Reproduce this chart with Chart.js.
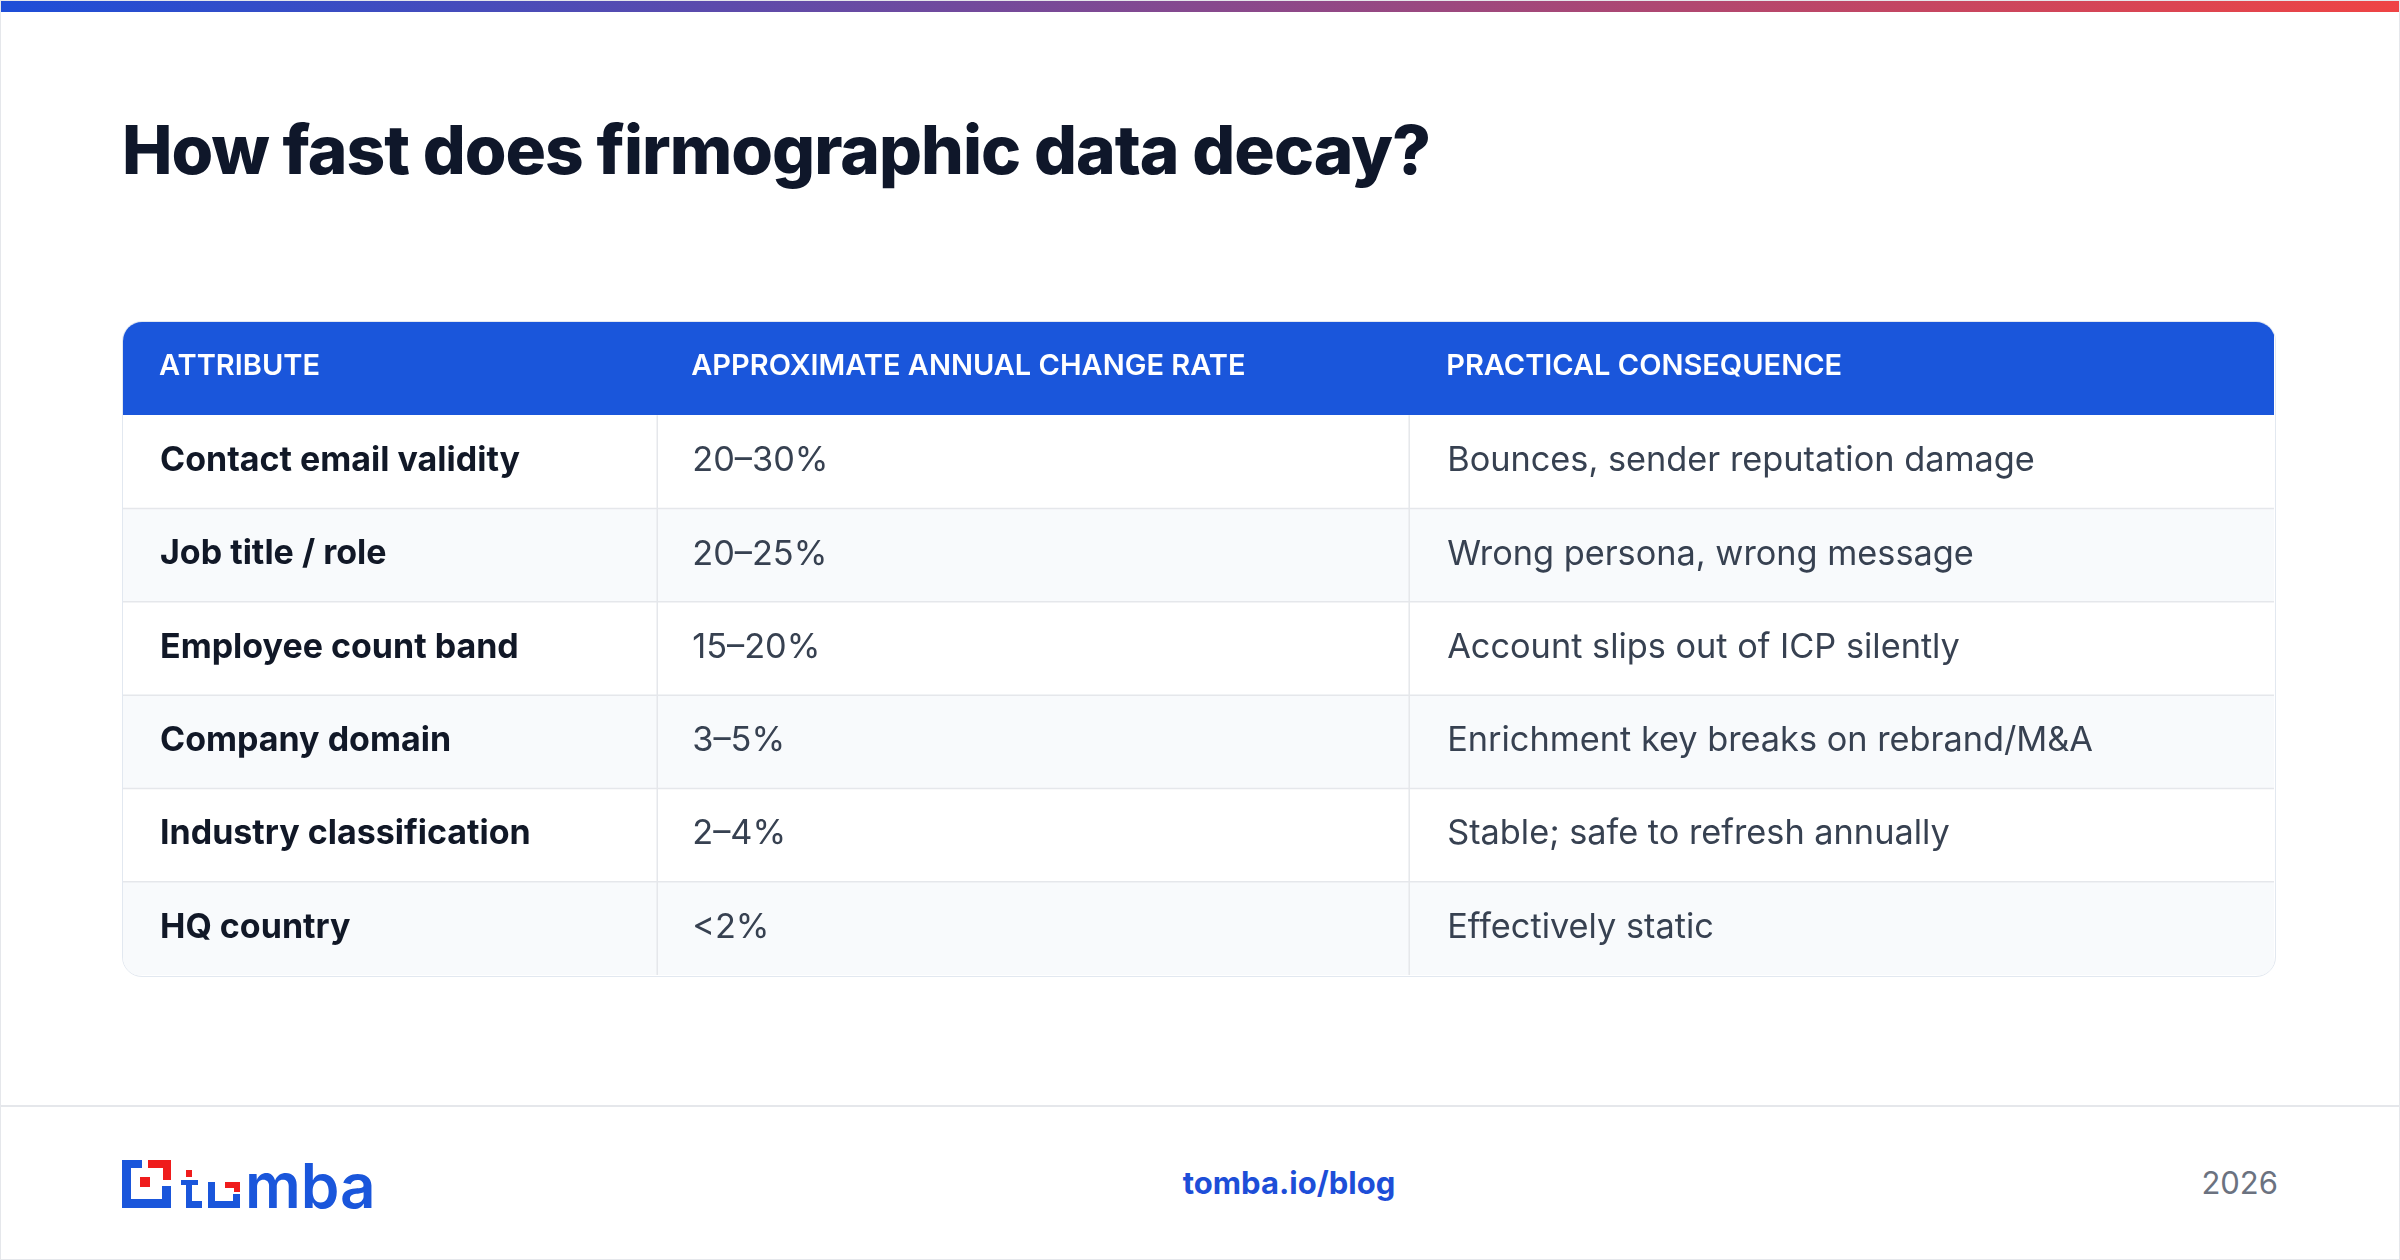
<!DOCTYPE html>
<html><head><meta charset="utf-8">
<script src="https://cdn.jsdelivr.net/npm/chart.js@4"></script>
<style>
html,body{margin:0;padding:0;background:#fff;}
body{width:2400px;height:1260px;position:relative;overflow:hidden;font-family:Inter,"Noto Sans",sans-serif;}
#topbar{position:absolute;left:0;top:0;width:2400px;height:12px;background:linear-gradient(90deg,#1d4ed8,#ef4444);}
#frame{position:absolute;left:0;top:0;width:2398px;height:1258px;border:1px solid #e5e7eb;pointer-events:none;}
#title{position:absolute;left:122px;top:109px;font-size:67.5px;font-weight:800;color:#0f172a;letter-spacing:-1px;}
#wrap{position:absolute;left:122px;top:321px;width:2154px;height:656px;border:1.5px solid #e2e8f0;border-radius:20px;overflow:hidden;box-sizing:border-box;}
#footline{position:absolute;left:0;top:1105px;width:2400px;height:2px;background:#e5e7eb;}
#blog{position:absolute;left:1179px;width:220px;text-align:center;top:1164px;font-size:31px;font-weight:700;color:#1d4ed8;}
#year{position:absolute;right:122px;top:1164px;font-size:31px;color:#6b7280;}
#logo{position:absolute;left:122px;top:1154px;}
</style></head><body>
<div id="topbar"></div>
<div id="title">How fast does firmographic data decay?</div>
<div id="wrap"><canvas id="c"></canvas></div>
<div id="footline"></div>
<svg id="logo" width="270" height="60" viewBox="0 0 270 60">
  <path d="M0 6 H20 V14 H9 V45 H40 V32 H49 V54 H0 Z" fill="#1a56db"/>
  <rect x="26" y="6" width="23" height="8" fill="#ef1c1c"/><rect x="41" y="6" width="8" height="20" fill="#ef1c1c"/>
  <rect x="18" y="23" width="10" height="10" fill="#ef1c1c"/>
  <rect x="64" y="16" width="6" height="7" fill="#ef1c1c"/>
  <rect x="59" y="26" width="17" height="5" fill="#1a56db"/>
  <path d="M64 26 H70 V47 H80 V54 H64 Z" fill="#1a56db"/>
  <path d="M86 28 H93 V47 H111 V40 H118 V54 H86 Z" fill="#1a56db"/>
  <rect x="103" y="28" width="15" height="6" fill="#ef1c1c"/><rect x="112" y="28" width="6" height="10" fill="#ef1c1c"/>
  <text x="123" y="54" font-family="Inter,sans-serif" font-size="62" font-weight="600" fill="#1a56db" letter-spacing="0">mba</text>
</svg>
<div id="blog">tomba.io/blog</div>
<div id="year">2026</div>
<div id="frame"></div>
<script>
const headers = ["ATTRIBUTE","APPROXIMATE ANNUAL CHANGE RATE","PRACTICAL CONSEQUENCE"];
const attributes = ["Contact email validity","Job title / role","Employee count band","Company domain","Industry classification","HQ country"];
const changeRates = ["20–30%","20–25%","15–20%","3–5%","2–4%","<2%"];
const consequences = ["Bounces, sender reputation damage","Wrong persona, wrong message","Account slips out of ICP silently","Enrichment key breaks on rebrand/M&A","Stable; safe to refresh annually","Effectively static"];
const colEdges = [0, 535, 1288, 2154];

const rowLabels = ["header", ...attributes];
const total = colEdges[colEdges.length-1];
const bgColors = rowLabels.map((r,i)=> i===0 ? "#1a56db" : (i%2===1 ? "#ffffff" : "#f8fafc"));

const cvs = document.getElementById('c');
cvs.width = 2151; cvs.height = 653;
const tablePlugin = {
  id:'tableText',
  afterDatasetsDraw(chart){
    const ctx = chart.ctx, xs = chart.scales.x, ys = chart.scales.y;
    const step = ys.getPixelForValue(1) - ys.getPixelForValue(0);
    ctx.save();
    ctx.strokeStyle = "#e5e7eb"; ctx.lineWidth = 1.5;
    for (let i=1;i<rowLabels.length-1;i++){
      const yb = ys.getPixelForValue(i) + step/2;
      ctx.beginPath();ctx.moveTo(0,yb);ctx.lineTo(chart.width,yb);ctx.stroke();
    }
    const yTop = ys.getPixelForValue(1) - step/2;
    for (let c=1;c<colEdges.length-1;c++){
      const x = xs.getPixelForValue(colEdges[c]);
      ctx.beginPath();ctx.moveTo(x,yTop);ctx.lineTo(x,chart.height);ctx.stroke();
    }
    ctx.textBaseline = "middle";
    const pads = [37, 35, 38];
    headers.forEach((h,c)=>{
      ctx.font = "600 29px Inter, sans-serif"; ctx.fillStyle = "#ffffff";
      ctx.fillText(h, xs.getPixelForValue(colEdges[c]) + pads[c] - 1, ys.getPixelForValue(0)-2);
    });
    attributes.forEach((a,r)=>{
      const y = ys.getPixelForValue(r+1)-1;
      ctx.font = "700 34px Inter, sans-serif"; ctx.fillStyle = "#111827";
      ctx.fillText(a, xs.getPixelForValue(colEdges[0]) + pads[0], y);
      ctx.font = "400 34.3px Inter, sans-serif"; ctx.fillStyle = "#374151";
      ctx.fillText(changeRates[r], xs.getPixelForValue(colEdges[1]) + pads[1], y);
      ctx.fillText(consequences[r], xs.getPixelForValue(colEdges[2]) + pads[2], y);
    });
    ctx.restore();
  }
};
new Chart(cvs, {
  type:'bar',
  data:{ labels: rowLabels, datasets:[{ data: rowLabels.map(()=>[0,total]), backgroundColor: bgColors, borderWidth:0, barPercentage:1, categoryPercentage:1 }]},
  options:{
    indexAxis:'y', responsive:false, animation:false, devicePixelRatio:1,
    layout:{padding:0},
    plugins:{legend:{display:false}, tooltip:{enabled:false}},
    scales:{
      x:{type:'linear', min:0, max:total, display:false},
      y:{type:'category', display:false, offset:true}
    }
  },
  plugins:[tablePlugin]
});
</script>
</body></html>
